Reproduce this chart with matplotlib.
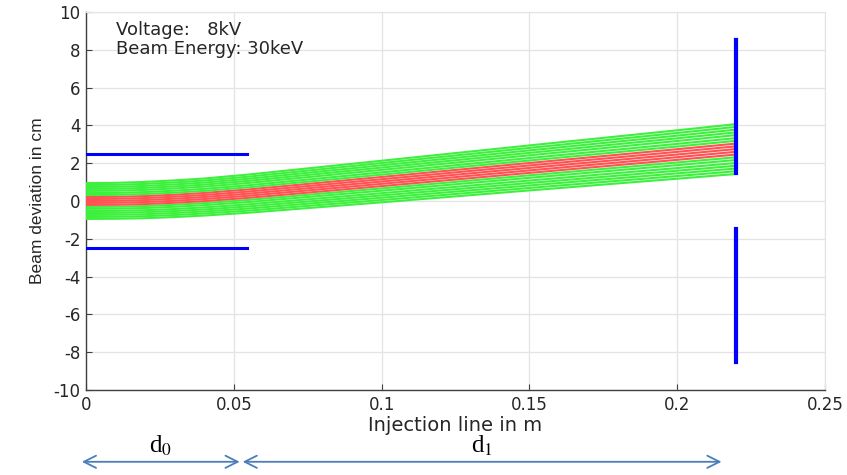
import numpy as np
import matplotlib
matplotlib.use('Agg')
import matplotlib.pyplot as plt

plt.rcParams['font.family'] = ['DejaVu Sans']
plt.rcParams['axes.unicode_minus'] = False

# ------------------------------------------------------------------ data
# beam centre and outer half-width (cm) along the injection line (m)
x_path     = [0.0, 0.01, 0.02, 0.03, 0.04, 0.05, 0.055, 0.1, 0.15, 0.2, 0.22]
centre_cm  = [0.0, 0.01, 0.05, 0.12, 0.21, 0.33, 0.39, 1.03, 1.75, 2.46, 2.75]
halfwid_cm = [0.95, 0.95, 0.96, 0.97, 0.98, 1.0, 1.01, 1.1, 1.19, 1.28, 1.32]

# relative position of every trajectory inside the beam
ray_frac = [-1.0, -0.89, -0.78, -0.67, -0.56, -0.44, -0.33, -0.22, -0.11, 0.0,
            0.11, 0.22, 0.33, 0.44, 0.56, 0.67, 0.78, 0.89, 1.0]
core_frac = 0.23          # rays inside this fraction are drawn red

# deflector plates and slit
plate_len = 0.0545
plate_y   = [2.5, -2.5]
slit_x    = 0.22
slit_segs = [(1.5, 8.5), (-8.5, -1.5)]

xticks = [0, 0.05, 0.1, 0.15, 0.2, 0.25]
xtick_labels = ['0', '0.05', '0.1', '0.15', '0.2', '0.25']
yticks = list(range(-10, 11, 2))

# ------------------------------------------------------------------ figure
fig = plt.figure(figsize=(8.47, 4.75), dpi=100)
ax = fig.add_axes([0.1015, 0.179, 0.8725, 0.7957])

xc = np.array(x_path)
cc = np.array(centre_cm)
hw = np.array(halfwid_cm)
for f in ray_frac:
    col = '#ff5252' if abs(f) <= core_frac else '#3ef03e'
    ax.plot(xc, cc + f * hw, '-', color=col, lw=1.5, zorder=3)

for y in plate_y:
    ax.plot([0, plate_len], [y, y], '-', color='#0000ff', lw=2.2, zorder=4)
for y0, y1 in slit_segs:
    ax.plot([slit_x, slit_x], [y0, y1], '-', color='#0000ff', lw=3.0, zorder=4)

ax.set_xlim(0, 0.25)
ax.set_ylim(-10, 10)
ax.set_xticks(xticks)
ax.set_xticklabels(xtick_labels)
ax.set_yticks(yticks)
ax.grid(True, color='#e3e3e3', lw=0.9)
ax.set_axisbelow(True)
ax.tick_params(direction='in', length=4, colors='#404040', labelsize=12,
               labelcolor='#262626', pad=4)
for side in ('left', 'bottom'):
    ax.spines[side].set_color('#404040')
    ax.spines[side].set_linewidth(1.0)
for side in ('top', 'right'):
    ax.spines[side].set_color('#e3e3e3')

ax.set_xlabel('Injection line in m', fontsize=14, color='#262626', labelpad=2)
ax.set_ylabel('Beam deviation in cm', fontsize=12.5, color='#262626', labelpad=6,
              family='Liberation Sans')

ax.text(0.04, 0.952, 'Voltage:   8kV', transform=ax.transAxes, fontsize=13,
        color='#262626', va='center')
ax.text(0.04, 0.902, 'Beam Energy: 30keV', transform=ax.transAxes, fontsize=13,
        color='#262626', va='center')

# section lengths under the axis
trans = ax.get_xaxis_transform()
arrow_col = '#4a7ebb'
for (xa, xb), lab in [((-0.0014, 0.052), 'd$_0$'), ((0.053, 0.215), 'd$_1$')]:
    ax.annotate('', xy=(xb, -0.19), xytext=(xa, -0.19), xycoords=trans,
                textcoords=trans, annotation_clip=False,
                arrowprops=dict(arrowstyle='<->', color=arrow_col, lw=1.3,
                                mutation_scale=22, shrinkA=0, shrinkB=0))
    ax.text((xa + xb) / 2, -0.148, lab, transform=trans, ha='center',
            va='center', fontsize=18, family='Liberation Serif',
            math_fontfamily='stix')

fig.savefig('out.png', dpi=100)
